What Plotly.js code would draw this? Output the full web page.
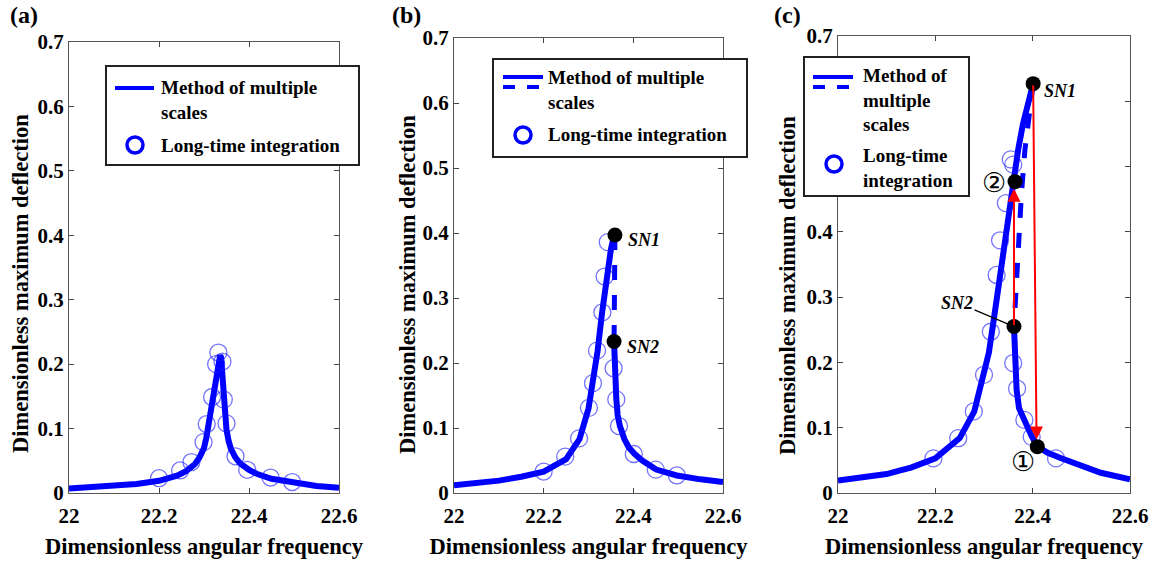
<!DOCTYPE html>
<html>
<head>
<meta charset="utf-8">
<script src="https://cdn.plot.ly/plotly-3.0.1.min.js"></script>
<style>html,body{margin:0;padding:0;background:#fff;}#chart{width:1153px;height:561px;}</style>
</head>
<body>
<div id="chart"></div>
<script>
// ---------- data ----------
// Panel (a)
const a_curveX = [22.0,22.05,22.1,22.15,22.2,22.22,22.24,22.26,22.28,22.29,22.3,22.305,22.31,22.315,22.32,22.325,22.33,22.336,22.338,22.34,22.343,22.347,22.35,22.355,22.36,22.37,22.38,22.4,22.42,22.45,22.5,22.55,22.6];
const a_curveY = [0.007,0.009,0.011,0.014,0.019,0.022,0.027,0.034,0.045,0.055,0.07,0.085,0.105,0.125,0.15,0.17,0.195,0.214,0.21,0.19,0.155,0.115,0.098,0.08,0.068,0.055,0.046,0.036,0.029,0.022,0.016,0.011,0.008];
const a_circX = [22.2,22.247,22.272,22.299,22.306,22.318,22.327,22.332,22.341,22.344,22.35,22.37,22.396,22.448,22.496];
const a_circY = [0.023,0.035,0.048,0.079,0.107,0.149,0.200,0.218,0.204,0.145,0.108,0.057,0.036,0.024,0.017];

// Panel (b)
const b_upperX = [22.0,22.05,22.1,22.15,22.2,22.25,22.28,22.3,22.31,22.32,22.33,22.34,22.35,22.355,22.359];
const b_upperY = [0.012,0.015,0.019,0.025,0.033,0.052,0.083,0.13,0.168,0.217,0.276,0.33,0.375,0.39,0.397];
const b_unstX = [22.359,22.3586,22.3582,22.3576,22.357];
const b_unstY = [0.397,0.36,0.32,0.28,0.233];
const b_lowerX = [22.357,22.358,22.36,22.362,22.365,22.37,22.38,22.39,22.403,22.42,22.451,22.497,22.55,22.6];
const b_lowerY = [0.233,0.205,0.17,0.145,0.12,0.103,0.083,0.07,0.06,0.05,0.036,0.027,0.021,0.017];
const b_circX = [22.2,22.248,22.279,22.301,22.31,22.319,22.331,22.336,22.343,22.356,22.362,22.368,22.401,22.45,22.497];
const b_circY = [0.033,0.056,0.084,0.131,0.169,0.219,0.278,0.333,0.386,0.192,0.144,0.103,0.06,0.036,0.027];
const b_snX = [22.359,22.357];
const b_snY = [0.397,0.233];
const b_snLabels = ['SN1','SN2'];

// Panel (c)
const c_upperX = [22.0,22.05,22.1,22.13,22.15,22.2,22.25,22.28,22.3,22.31,22.32,22.33,22.34,22.35,22.36,22.37,22.38,22.39,22.401];
const c_upperY = [0.019,0.023,0.029,0.035,0.039,0.053,0.084,0.125,0.181,0.215,0.265,0.318,0.372,0.428,0.476,0.525,0.565,0.598,0.627];
const c_unstX = [22.401,22.392,22.384,22.377,22.3705,22.367,22.3616];
const c_unstY = [0.627,0.575,0.525,0.459,0.372,0.296,0.255];
const c_lowerX = [22.3616,22.3625,22.364,22.367,22.372,22.38,22.388,22.398,22.41,22.43,22.456,22.5,22.54,22.6];
const c_lowerY = [0.255,0.23,0.2,0.158,0.13,0.115,0.104,0.087,0.071,0.062,0.054,0.041,0.031,0.021];
const c_circX = [22.196,22.247,22.279,22.3,22.314,22.326,22.333,22.345,22.355,22.36,22.36,22.368,22.383,22.398,22.448];
const c_circY = [0.053,0.084,0.125,0.181,0.247,0.334,0.387,0.444,0.511,0.503,0.199,0.16,0.112,0.086,0.053];
const c_ptX = [22.401,22.3637,22.3616,22.4095];
const c_ptY = [0.627,0.477,0.255,0.071];
// jump arrows: [tailX, tailY, headX, headY]
const c_jumpDown = [22.401,0.627,22.408,0.082];
const c_jumpUp = [22.3616,0.255,22.3616,0.466];

const xTicks = [22,22.2,22.4,22.6];
const yTicks = [0,0.1,0.2,0.3,0.4,0.5,0.6,0.7];
const xTitle = 'Dimensionless angular frequency';
const yTitle = 'Dimensionless maximum deflection';
const legCirc = 'Long-time integration';

// ---------- helpers ----------
const W = 1153, H = 561;
const px = x => x / W;
const py = y => 1 - y / H;
const BLUE = '#0000ff';
const FONT = 'Liberation Serif, Times New Roman, serif';

function curve(x, y, xa, ya, dash) {
  return {x, y, xaxis: xa, yaxis: ya, type: 'scatter', mode: 'lines',
    line: {color: BLUE, width: dash ? 5 : 6, dash: dash ? 'dash' : 'solid'},
    hoverinfo: 'skip', showlegend: false};
}
function circles(x, y, xa, ya) {
  return {x, y, xaxis: xa, yaxis: ya, type: 'scatter', mode: 'markers',
    marker: {symbol: 'circle-open', size: 17, color: 'rgba(20,20,255,0.6)', line: {width: 1.3}},
    showlegend: false};
}
function dots(x, y, xa, ya) {
  return {x, y, xaxis: xa, yaxis: ya, type: 'scatter', mode: 'markers',
    marker: {symbol: 'circle', size: 15, color: '#000'}, showlegend: false};
}

const traces = [
  curve(a_curveX, a_curveY, 'x', 'y'),
  circles(a_circX, a_circY, 'x', 'y'),
  curve(b_upperX, b_upperY, 'x2', 'y2'),
  curve(b_lowerX, b_lowerY, 'x2', 'y2'),
  curve(b_unstX, b_unstY, 'x2', 'y2', true),
  circles(b_circX, b_circY, 'x2', 'y2'),
  dots(b_snX, b_snY, 'x2', 'y2'),
  curve(c_upperX, c_upperY, 'x3', 'y3'),
  curve(c_lowerX, c_lowerY, 'x3', 'y3'),
  curve(c_unstX, c_unstY, 'x3', 'y3', true),
  circles(c_circX, c_circY, 'x3', 'y3'),
];

function xax(domain, anchor) {
  return {domain, anchor, range: [22, 22.6], tickvals: xTicks, ticks: 'inside', ticklen: 5,
    tickcolor: '#444', showline: true, linecolor: '#555', linewidth: 1, mirror: 'ticks',
    showgrid: false, zeroline: false, ticklabelstandoff: 4,
    tickfont: {family: FONT, size: 21, color: '#000', weight: 'bold'},
    title: {text: xTitle, font: {family: FONT, size: 22.5, color: '#000', weight: 'bold'}, standoff: 11}};
}
function yax(domain, anchor) {
  return {domain, anchor, range: [0, 0.7], tickvals: yTicks, ticks: 'inside', ticklen: 5,
    tickcolor: '#444', showline: true, linecolor: '#555', linewidth: 1, mirror: 'ticks',
    showgrid: false, zeroline: false,
    tickfont: {family: FONT, size: 21, color: '#000', weight: 'bold'}};
}

const shapes = [];
const annotations = [];
function box(x0, y0, x1, y1) {
  shapes.push({type: 'rect', xref: 'paper', yref: 'paper', x0: px(x0), x1: px(x1), y0: py(y1), y1: py(y0),
    line: {color: '#222', width: 2}, fillcolor: '#fff', layer: 'above'});
}
function hline(x0, x1, y, dash) {
  shapes.push({type: 'line', xref: 'paper', yref: 'paper', x0: px(x0), x1: px(x1), y0: py(y), y1: py(y),
    line: {color: BLUE, width: 4, dash: dash ? 'dash' : 'solid'}, layer: 'above'});
}
function ring(cx, cy, r) {
  shapes.push({type: 'circle', xref: 'paper', yref: 'paper', x0: px(cx - r), x1: px(cx + r), y0: py(cy + r), y1: py(cy - r),
    line: {color: BLUE, width: 3.5}, layer: 'above'});
}
function text(t, x, y, size, opts) {
  annotations.push(Object.assign({text: t, xref: 'paper', yref: 'paper', x: px(x), y: py(y),
    xanchor: 'left', yanchor: 'middle', align: 'left', showarrow: false,
    font: {family: FONT, size: size, color: '#000', weight: 'bold'}}, opts || {}));
}

// Y-axis titles
[[20, 284], [407, 285], [787, 286]].forEach(p => {
  text(yTitle, p[0], p[1], 22.5, {xanchor: 'center', yanchor: 'middle', textangle: -90, align: 'center'});
});

// Legend (a)
box(106, 66, 359, 165);
hline(115, 154, 88);
text('Method of multiple<br>scales', 159, 99.5, 19);
ring(135, 145, 8);
text(legCirc, 159, 145, 19);
// Legend (b)
box(493, 59, 747, 157);
hline(503, 543, 77);
hline(503, 543, 87, true);
text('Method of multiple<br>scales', 546, 89.5, 19);
ring(523, 135, 8);
text(legCirc, 546, 135, 19);
// Legend (c)
box(804, 57, 969, 196);
hline(813, 853, 77);
hline(813, 853, 87, true);
text('Method of<br>multiple<br>scales', 861, 99.5, 19);
ring(834, 164, 8);
text('Long-time<br>integration', 861, 167.5, 19);

// Panel labels
text('(a)', 8, 15, 24);
text('(b)', 390, 15, 24);
text('(c)', 772, 15, 24);

// SN labels (b)
for (let i = 0; i < b_snX.length; i++) {
  annotations.push({x: b_snX[i], y: b_snY[i], xref: 'x2', yref: 'y2', text: '<i>' + b_snLabels[i] + '</i>',
    showarrow: false, xanchor: 'left', yanchor: 'middle', xshift: 11, yshift: -5,
    font: {family: FONT, size: 18, color: '#000', weight: 'bold'}});
}
// Panel (c) annotations
annotations.push({x: c_ptX[0], y: c_ptY[0], xref: 'x3', yref: 'y3', text: '<i>SN1</i>', showarrow: false,
  xanchor: 'left', yanchor: 'middle', xshift: 9, yshift: -7, font: {family: FONT, size: 18, color: '#000', weight: 'bold'}});
annotations.push({x: c_ptX[2], y: c_ptY[2], xref: 'x3', yref: 'y3', text: '<i>SN2</i>', showarrow: true,
  arrowhead: 0, arrowwidth: 1.2, arrowcolor: '#000', ax: -57, ay: -24, standoff: 5,
  font: {family: FONT, size: 18, color: '#000', weight: 'bold'}});
annotations.push({x: c_ptX[1], y: c_ptY[1], xref: 'x3', yref: 'y3', text: '②', showarrow: false,
  xshift: -21, yshift: -1, font: {family: 'DejaVu Sans, Noto Sans CJK SC', size: 27, color: '#000'}});
annotations.push({x: c_ptX[3], y: c_ptY[3], xref: 'x3', yref: 'y3', text: '①', showarrow: false,
  xshift: -14, yshift: -15, font: {family: 'DejaVu Sans, Noto Sans CJK SC', size: 27, color: '#000'}});
// jump arrows
[c_jumpDown, c_jumpUp].forEach(j => {
  annotations.push({x: j[2], y: j[3], ax: j[0], ay: j[1], xref: 'x3', yref: 'y3', axref: 'x3', ayref: 'y3',
    text: '', showarrow: true, arrowhead: 2, arrowsize: 1.3, arrowwidth: 2, arrowcolor: '#ff0000'});
});

traces.push(dots(c_ptX, c_ptY, 'x3', 'y3'));

const layout = {
  width: W, height: H,
  margin: {l: 0, r: 0, t: 0, b: 0},
  paper_bgcolor: '#fff', plot_bgcolor: '#fff',
  showlegend: false,
  xaxis: xax([px(69), px(339)], 'y'),
  yaxis: yax([py(493), py(42)], 'x'),
  xaxis2: xax([px(454), px(723)], 'y2'),
  yaxis2: yax([py(493), py(38)], 'x2'),
  xaxis3: xax([px(838), px(1130)], 'y3'),
  yaxis3: yax([py(493), py(36)], 'x3'),
  shapes, annotations
};
Plotly.newPlot('chart', traces, layout, {displayModeBar: false, staticPlot: true});
</script>
</body>
</html>
